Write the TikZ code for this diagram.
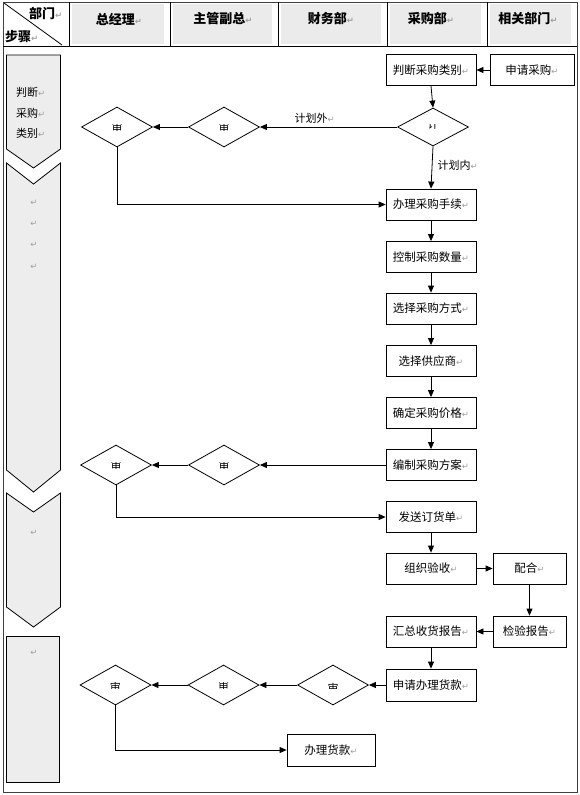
\documentclass[tikz,border=0pt]{standalone}
\usepackage{fontspec}
\usetikzlibrary{arrows.meta,shapes.geometric,calc}
\newfontfamily\cjk{Noto Sans CJK SC}
\newfontfamily\dv{DejaVu Sans}
\newcommand{\rmk}{{\dv\color{gray!75}\fontsize{8.5}{9}\selectfont ↵}}
\newcommand{\fragbox}[2]{\tikz{\useasboundingbox (-5.5pt,-3pt) rectangle (5.5pt,3pt);\clip (-5.5pt,-3pt) rectangle (5.5pt,3pt);\node[inner sep=0pt,font=\cjk\fontsize{11}{12}\selectfont] (fg) at (0pt,#2) {#1};}}
\tikzset{
  ln/.style={line width=0.8pt,draw=black},
  arr/.style={ln,-{Triangle[length=7pt,width=6pt]}},
  box/.style={ln,fill=white,minimum width=90pt,minimum height=31pt,inner sep=0pt,font=\cjk\fontsize{11.5}{13}\selectfont},
  sbox/.style={box,minimum width=73pt},
  dia/.style={ln,diamond,fill=white,minimum width=71pt,minimum height=40pt,inner sep=0pt},
  lab/.style={font=\cjk\fontsize{11}{13}\selectfont,inner sep=1pt},
  hd/.style={font=\cjk\bfseries\fontsize{13}{15}\selectfont,inner sep=0pt},
  chev/.style={line width=0.8pt,draw=black,fill=gray!14},
  hfill/.style={fill=gray!16},
  frame/.style={line width=1pt,draw=black!75}
}
\begin{document}
\begin{tikzpicture}[x=1pt,y=-1pt]
\useasboundingbox (0,0) rectangle (580,795);
% header fills
\foreach \a/\b in {69/170,170/278,278/387,387/487,487/577}{
  \fill[hfill] ({\a+3},4) rectangle ({\b-6},44);
}
\draw[frame] (3,2) rectangle (577,792);
\draw[line width=1pt] (3,46) -- (577,46);
\foreach \a in {69,170,278,387,487}{ \draw[line width=1pt] (\a,2) -- (\a,46); }
\draw[line width=0.8pt] (4,3) -- (62,45);
\node[hd,anchor=west] (hbm) at (29,14) {部门\rmk};
\node[hd,anchor=west] (hbz) at (5,37) {步骤\rmk};
\node[hd] (h1) at (119,19) {总经理\rmk};
\node[hd] (h2) at (223,19) {主管副总\rmk};
\node[hd] (h3) at (331,19) {财务部\rmk};
\node[hd] (h4) at (431,19) {采购部\rmk};
\node[hd] (h5) at (528,19) {相关部门\rmk};
% left column
\draw[chev] (6.5,55) -- (60.5,55) -- (60.5,149) -- (33.5,168) -- (6.5,149) -- cycle;
\draw[chev] (6.5,163) -- (33.5,184) -- (60.5,163) -- (60.5,470) -- (33.5,492) -- (6.5,470) -- cycle;
\draw[chev] (6.5,493) -- (33.5,512) -- (60.5,493) -- (60.5,607) -- (33.5,627) -- (6.5,607) -- cycle;
\draw[chev] (6,636) rectangle (59,782);
\node[lab,anchor=west] (l1) at (15,92) {判断\rmk};
\node[lab,anchor=west] (l2) at (15,113) {采购\rmk};
\node[lab,anchor=west] (l3) at (15,133) {类别\rmk};
\foreach \y/\n in {203/a,224/b,245/c,267/d,533/e,653/f}{ \node[inner sep=0pt] (m\n) at (34,\y) {\rmk}; }
% process boxes
\node[box] (pan) at (431,70) {判断采购类别\rmk};
\node[box,minimum width=84pt] (shen) at (532,70) {申请采购\rmk};
\node[dia,minimum width=71pt,minimum height=38pt] (ji) at (433,127) {\fragbox{计}{3pt}};
\node[dia] (dB1) at (224,127) {\fragbox{审}{0pt}};
\node[dia] (dA1) at (117,127) {\fragbox{审}{0pt}};
\node[box] (banli) at (431,204.5) {办理采购手续\rmk};
\node[box] (kong) at (431,257) {控制采购数量\rmk};
\node[box] (fang) at (431,308.5) {选择采购方式\rmk};
\node[box] (gong) at (431,361) {选择供应商\rmk};
\node[box] (que) at (431,413) {确定采购价格\rmk};
\node[box] (bian) at (431,465) {编制采购方案\rmk};
\node[dia] (dB2) at (224,465) {\fragbox{审}{0pt}};
\node[dia] (dA2) at (116,465) {\fragbox{审}{0pt}};
\node[box] (fa) at (431,517) {发送订货单\rmk};
\node[box] (zu) at (431,568.5) {组织验收\rmk};
\node[sbox] (pei) at (529.5,568.5) {配合\rmk};
\node[sbox] (jian) at (529.5,631.5) {检验报告\rmk};
\node[box] (hui) at (431,631.5) {汇总收货报告\rmk};
\node[box,minimum height=32pt] (sq) at (431,685) {申请办理货款\rmk};
\node[dia] (dC3) at (333,685) {\fragbox{审}{-3pt}};
\node[dia] (dB3) at (223.5,685) {\fragbox{审}{0pt}};
\node[dia] (dA3) at (115.5,685) {\fragbox{审}{-2pt}};
\node[box,minimum width=88pt,minimum height=32pt] (hk) at (331,750) {办理货款\rmk};
% connectors
\draw[arr] (shen.west) -- (pan.east);
\draw[arr] (pan.south) -- (ji.north);
\draw[arr] (ji.south) -- node[lab,right=4pt,pos=0.45] (jhn) {计划内\rmk} (banli.north);
\draw[arr] (ji.west) -- node[lab,above=2pt,pos=0.6] (jhw) {计划外\rmk} (dB1.east);
\draw[arr] (dB1.west) -- (dA1.east);
\draw[arr] (dA1.south) |- (banli.west);
\draw[arr] (banli) -- (kong);
\draw[arr] (kong) -- (fang);
\draw[arr] (fang) -- (gong);
\draw[arr] (gong) -- (que);
\draw[arr] (que) -- (bian);
\draw[arr] (bian.west) -- (dB2.east);
\draw[arr] (dB2.west) -- (dA2.east);
\draw[arr] (dA2.south) |- (fa.west);
\draw[arr] (fa) -- (zu);
\draw[arr] (zu) -- (pei);
\draw[arr] (pei) -- (jian);
\draw[arr] (jian) -- (hui);
\draw[arr] (hui) -- (sq);
\draw[arr] (sq.west) -- (dC3.east);
\draw[arr] (dC3.west) -- (dB3.east);
\draw[arr] (dB3.west) -- (dA3.east);
\draw[arr] (dA3.south) |- (hk.west);
\end{tikzpicture}
\end{document}
